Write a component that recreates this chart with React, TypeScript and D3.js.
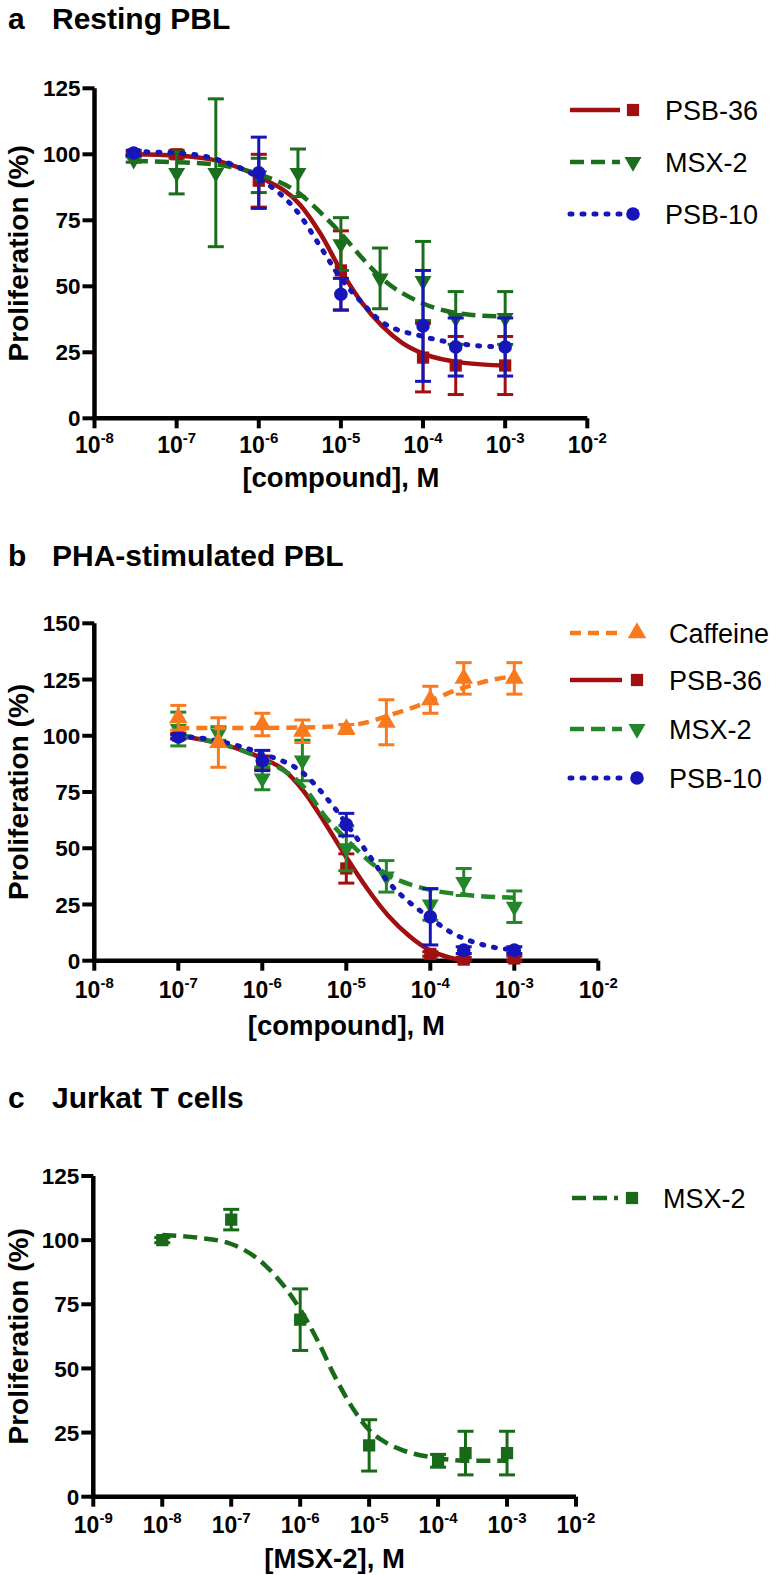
import * as d3 from "d3";

const FONT = "'Liberation Sans', Arial, Helvetica, sans-serif";

const RED = "#a01010";
const BLUE = "#1616b8";
const ORANGE = "#f97a1e";
const GREEN_A = "#1b6e1b";
const GREEN_B = "#23872a";
const GREEN_C = "#186a18";

// ---- panel a: resting PBL ----
const aPsb36Conc = [3e-8, 1e-7, 1e-6, 1e-5, 1e-4, 2.5e-4, 1e-3];
const aPsb36Mean = [100, 100, 90, 56, 23, 20, 20];
const aPsb36Sem = [0.5, 1.5, 10, 15, 13, 11, 11];
const aPsb36Fit = [[-7.52, 100], [-7, 99.5], [-6.5, 97.5], [-6, 91.5], [-5.5, 81], [-5.25, 70], [-5, 56], [-4.75, 44], [-4.5, 35], [-4.25, 28.5], [-4, 24.5], [-3.5, 21], [-3, 20]];

const aMsxConc = [3e-8, 1e-7, 3e-7, 1e-6, 3e-6, 1e-5, 3e-5, 1e-4, 2.5e-4, 1e-3];
const aMsxMean = [98, 93, 93, 92, 93, 66, 53, 52, 38, 38];
const aMsxSem = [1, 8, 28, 6.5, 9, 10, 11.5, 15, 10, 10];
const aMsxFit = [[-7.52, 97.5], [-7, 97], [-6.5, 96], [-6, 92.5], [-5.5, 85], [-5.25, 78], [-5, 70], [-4.75, 61], [-4.5, 53], [-4, 43.5], [-3.5, 39.5], [-3, 38.5]];

const aPsb10Conc = [3e-8, 1e-6, 1e-5, 1e-4, 2.5e-4, 1e-3];
const aPsb10Mean = [100.5, 93, 47, 35, 27, 27];
const aPsb10Sem = [1, 13.5, 6, 21, 11, 11];
const aPsb10Fit = [[-7.52, 101], [-7, 100.5], [-6.5, 98], [-6, 91], [-5.5, 77], [-5.25, 65], [-5, 53], [-4.75, 44], [-4.5, 36.5], [-4, 31], [-3.5, 28], [-3, 27]];

// ---- panel b: PHA-stimulated PBL ----
const bCafConc = [1e-7, 3e-7, 1e-6, 3e-6, 1e-5, 3e-5, 1e-4, 2.5e-4, 1e-3];
const bCafMean = [108, 97, 105, 102, 103, 106, 116, 125.5, 125.5];
const bCafSem = [5.5, 11, 5, 5, 2, 10, 6, 7, 7];
const bCafFit = [[-7, 103.5], [-6, 103.5], [-5.5, 103.7], [-5, 104.5], [-4.75, 106], [-4.5, 109], [-4.25, 112], [-4, 115.5], [-3.75, 119.5], [-3.5, 122.5], [-3.25, 125], [-3, 126.5]];

const bPsb36Conc = [1e-7, 1e-6, 1e-5, 1e-4, 2.5e-4, 1e-3];
const bPsb36Mean = [100, 88, 41, 3, 0.5, 1];
const bPsb36Sem = [1, 3, 6.5, 1, 1, 1];
const bPsb36Fit = [[-7, 100], [-6.5, 96.5], [-6, 90], [-5.75, 85], [-5.5, 75], [-5.25, 61], [-5, 46], [-4.75, 32], [-4.5, 20], [-4.25, 11], [-4, 4.5], [-3.75, 1.2], [-3.55, 0]];

const bMsxConc = [1e-7, 3e-7, 1e-6, 3e-6, 1e-5, 3e-5, 1e-4, 2.5e-4, 1e-3];
const bMsxMean = [103, 101, 81, 89, 50, 37.5, 25, 35, 24];
const bMsxSem = [7.5, 3, 5, 9, 10, 7, 7, 6, 7];
const bMsxFit = [[-7, 100.5], [-6.5, 96.5], [-6, 89.5], [-5.5, 77], [-5.25, 64], [-5, 54], [-4.75, 45], [-4.5, 38], [-4.25, 34], [-4, 31.5], [-3.5, 29], [-3, 28]];

const bPsb10Conc = [1e-7, 1e-6, 1e-5, 1e-4, 2.5e-4, 1e-3];
const bPsb10Mean = [99.5, 89, 60.5, 19.5, 4.7, 4.7];
const bPsb10Sem = [1, 4.5, 5, 12.5, 1.5, 1.5];
const bPsb10Fit = [[-7, 100], [-6.5, 97.5], [-6, 92], [-5.5, 83], [-5.25, 73], [-5, 61], [-4.75, 48], [-4.5, 35], [-4.25, 26], [-4, 19], [-3.75, 12.5], [-3.5, 8.5], [-3.25, 6], [-3, 4.8]];

// ---- panel c: Jurkat T cells ----
const cMsxConc = [1e-8, 1e-7, 1e-6, 1e-5, 1e-4, 2.5e-4, 1e-3];
const cMsxMean = [100, 108, 69, 20, 14, 17, 17];
const cMsxSem = [1, 4, 12, 10, 2.5, 8.5, 8.5];
const cMsxFit = [[-8, 102], [-7.5, 101], [-7, 98.5], [-6.5, 90], [-6, 73], [-5.75, 61], [-5.5, 47], [-5.25, 35], [-5, 26], [-4.75, 21], [-4.5, 18], [-4, 15], [-3.5, 14], [-3, 14]];

// axis ticks
const xExpAB = [-8, -7, -6, -5, -4, -3, -2];
const xExpC = [-9, -8, -7, -6, -5, -4, -3, -2];
const yTicks125 = [0, 25, 50, 75, 100, 125];
const yTicks150 = [0, 25, 50, 75, 100, 125, 150];

const DASH = { solid: null, dashed: "14,7", short: "11,7", dotted: "2,10" };

const panels = [
  {
    letter: "a", title: "Resting PBL", titleY: 29, xTitle: "[compound], M",
    xDomain: [1e-8, 1e-2], xRange: [94.5, 587.3], yDomain: [0, 125], yRange: [418.3, 88.3],
    xExp: xExpAB, yTicks: yTicks125, tickBase: 35, xTitleBase: 69,
    legend: { x0: 570, x1: 620, mx: 633, tx: 665, ys: [110, 162, 214] },
    series: [
      { name: "PSB-36", color: RED, dash: "solid", marker: "square", conc: aPsb36Conc, mean: aPsb36Mean, sem: aPsb36Sem, fit: aPsb36Fit },
      { name: "MSX-2", color: GREEN_A, dash: "dashed", marker: "down", conc: aMsxConc, mean: aMsxMean, sem: aMsxSem, fit: aMsxFit },
      { name: "PSB-10", color: BLUE, dash: "dotted", marker: "circle", conc: aPsb10Conc, mean: aPsb10Mean, sem: aPsb10Sem, fit: aPsb10Fit },
    ],
  },
  {
    letter: "b", title: "PHA-stimulated PBL", titleY: 566, xTitle: "[compound], M",
    xDomain: [1e-8, 1e-2], xRange: [94.3, 598.3], yDomain: [0, 150], yRange: [960.7, 623.3],
    xExp: xExpAB, yTicks: yTicks150, tickBase: 37, xTitleBase: 74,
    legend: { x0: 570, x1: 622, mx: 637, tx: 669, ys: [633, 680, 729, 778] },
    series: [
      { name: "Caffeine", color: ORANGE, dash: "short", marker: "up", conc: bCafConc, mean: bCafMean, sem: bCafSem, fit: bCafFit },
      { name: "PSB-36", color: RED, dash: "solid", marker: "square", conc: bPsb36Conc, mean: bPsb36Mean, sem: bPsb36Sem, fit: bPsb36Fit },
      { name: "MSX-2", color: GREEN_B, dash: "dashed", marker: "down", conc: bMsxConc, mean: bMsxMean, sem: bMsxSem, fit: bMsxFit },
      { name: "PSB-10", color: BLUE, dash: "dotted", marker: "circle", conc: bPsb10Conc, mean: bPsb10Mean, sem: bPsb10Sem, fit: bPsb10Fit },
    ],
    drawOrder: [1, 2, 3, 0],
  },
  {
    letter: "c", title: "Jurkat T cells", titleY: 1108, xTitle: "[MSX-2], M",
    xDomain: [1e-9, 1e-2], xRange: [93.3, 576], yDomain: [0, 125], yRange: [1496.7, 1176],
    xExp: xExpC, yTicks: yTicks125, tickBase: 36, xTitleBase: 71,
    legend: { x0: 572, x1: 618, mx: 632, tx: 663, ys: [1198] },
    series: [
      { name: "MSX-2", color: GREEN_C, dash: "dashed", marker: "square", conc: cMsxConc, mean: cMsxMean, sem: cMsxSem, fit: cMsxFit },
    ],
  },
];

const symbolPath = (kind) => {
  if (kind === "square") return d3.symbol().type(d3.symbolSquare).size(150)();
  if (kind === "circle") return d3.symbol().type(d3.symbolCircle).size(145)();
  return d3.symbol().type(d3.symbolTriangle).size(kind === "up" ? 150 : 125)();
};

function Marker({ kind, x, y, color }) {
  const rot = kind === "down" ? 180 : 0;
  return <path d={symbolPath(kind)} transform={`translate(${x},${y}) rotate(${rot})`} fill={color} />;
}

function lineProps(s) {
  const dash = DASH[s.dash];
  return {
    fill: "none",
    stroke: s.color,
    strokeWidth: s.dash === "dotted" ? 5 : 4.5,
    strokeDasharray: dash || undefined,
    strokeLinecap: s.dash === "dotted" ? "round" : "butt",
  };
}

function Panel({ p }) {
  const x = d3.scaleLog().domain(p.xDomain).range(p.xRange);
  const y = d3.scaleLinear().domain(p.yDomain).range(p.yRange);
  const line = d3.line().x((d) => x(Math.pow(10, d[0]))).y((d) => y(d[1])).curve(d3.curveMonotoneX);
  const x0 = p.xRange[0];
  const y0 = p.yRange[0];
  const yTop = p.yRange[1];
  const xEnd = p.xRange[1];
  const order = p.drawOrder || p.series.map((_, i) => i);

  return (
    <g>
      <text x={8} y={p.titleY} fontFamily={FONT} fontWeight="bold" fontSize={30}>{p.letter}</text>
      <text x={52} y={p.titleY} fontFamily={FONT} fontWeight="bold" fontSize={30}>{p.title}</text>

      {/* axes */}
      <path d={`M${x0},${yTop} V${y0} H${xEnd}`} fill="none" stroke="#000" strokeWidth={4.5} strokeLinejoin="miter" />
      {p.yTicks.map((t) => (
        <g key={"y" + t}>
          <line x1={x0 - 12} x2={x0} y1={y(t)} y2={y(t)} stroke="#000" strokeWidth={4} />
          <text x={x0 - 14} y={y(t)} dy="0.36em" textAnchor="end" fontFamily={FONT} fontWeight="bold" fontSize={22.5}>{t}</text>
        </g>
      ))}
      {p.xExp.map((e) => (
        <g key={"x" + e}>
          <line x1={x(Math.pow(10, e))} x2={x(Math.pow(10, e))} y1={y0} y2={y0 + 10} stroke="#000" strokeWidth={4} />
          <text x={x(Math.pow(10, e))} y={y0 + p.tickBase} textAnchor="middle" fontFamily={FONT} fontWeight="bold" fontSize={23}>
            10<tspan dy={-10} fontSize={15}>{e}</tspan>
          </text>
        </g>
      ))}
      <text x={(x0 + xEnd) / 2} y={y0 + p.xTitleBase} textAnchor="middle" fontFamily={FONT} fontWeight="bold" fontSize={27.5}>{p.xTitle}</text>
      <text transform={`translate(28,${(y0 + yTop) / 2}) rotate(-90)`} textAnchor="middle" fontFamily={FONT} fontWeight="bold" fontSize={28}>Proliferation (%)</text>

      {/* series */}
      {order.map((i) => {
        const s = p.series[i];
        return (
          <g key={s.name}>
            <path d={line(s.fit)} {...lineProps(s)} />
            {s.conc.map((c, j) => {
              const cx = x(c);
              const lo = y(Math.max(0, s.mean[j] - s.sem[j]));
              const hi = y(s.mean[j] + s.sem[j]);
              return (
                <g key={j} stroke={s.color} strokeWidth={3}>
                  <line x1={cx} x2={cx} y1={lo} y2={hi} />
                  <line x1={cx - 8} x2={cx + 8} y1={hi} y2={hi} />
                  <line x1={cx - 8} x2={cx + 8} y1={lo} y2={lo} />
                </g>
              );
            })}
            {s.conc.map((c, j) => (
              <Marker key={"m" + j} kind={s.marker} x={x(c)} y={y(s.mean[j])} color={s.color} />
            ))}
          </g>
        );
      })}

      {/* legend */}
      {p.series.map((s, i) => {
        const ly = p.legend.ys[i];
        return (
          <g key={"lg" + s.name}>
            <line x1={p.legend.x0} x2={p.legend.x1} y1={ly} y2={ly} {...lineProps(s)} />
            <Marker kind={s.marker} x={p.legend.mx} y={ly} color={s.color} />
            <text x={p.legend.tx} y={ly} dy="0.36em" fontFamily={FONT} fontSize={27}>{s.name}</text>
          </g>
        );
      })}
    </g>
  );
}

export default function App() {
  return (
    <svg width={776} height={1575} style={{ position: "absolute", left: 0, top: 0, background: "#fff" }}>
      <rect width={776} height={1575} fill="#fff" />
      {panels.map((p) => (
        <Panel key={p.letter} p={p} />
      ))}
    </svg>
  );
}
